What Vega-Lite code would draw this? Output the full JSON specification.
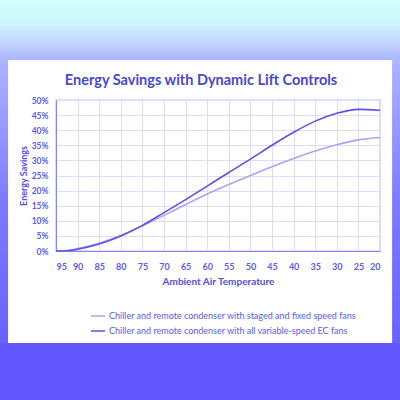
{
  "$schema": "https://vega.github.io/schema/vega-lite/v6.json",
  "autosize": "none",
  "width": 324,
  "height": 151,
  "padding": {"left": 56, "top": 100, "right": 20, "bottom": 149},
  "background": "white",
  "title": {
    "text": "Energy Savings with Dynamic Lift Controls",
    "font": "Lato",
    "fontSize": 14.5,
    "fontWeight": "bold",
    "color": "#4848d2",
    "anchor": "middle",
    "frame": "group",
    "baseline": "alphabetic",
    "offset": 0,
    "dx": -17,
    "dy": 99
  },
  "datasets": {
    "savings": [
      {"temp": 95, "pct": 0, "series": "Chiller and remote condenser with staged and fixed speed fans"},
      {"temp": 92.5, "pct": 0.1, "series": "Chiller and remote condenser with staged and fixed speed fans"},
      {"temp": 90, "pct": 0.8, "series": "Chiller and remote condenser with staged and fixed speed fans"},
      {"temp": 85, "pct": 2.6, "series": "Chiller and remote condenser with staged and fixed speed fans"},
      {"temp": 80, "pct": 5.1, "series": "Chiller and remote condenser with staged and fixed speed fans"},
      {"temp": 75, "pct": 8.3, "series": "Chiller and remote condenser with staged and fixed speed fans"},
      {"temp": 70, "pct": 11.8, "series": "Chiller and remote condenser with staged and fixed speed fans"},
      {"temp": 65, "pct": 15.4, "series": "Chiller and remote condenser with staged and fixed speed fans"},
      {"temp": 60, "pct": 18.9, "series": "Chiller and remote condenser with staged and fixed speed fans"},
      {"temp": 55, "pct": 22.0, "series": "Chiller and remote condenser with staged and fixed speed fans"},
      {"temp": 50, "pct": 25.0, "series": "Chiller and remote condenser with staged and fixed speed fans"},
      {"temp": 45, "pct": 27.9, "series": "Chiller and remote condenser with staged and fixed speed fans"},
      {"temp": 40, "pct": 30.6, "series": "Chiller and remote condenser with staged and fixed speed fans"},
      {"temp": 35, "pct": 33.1, "series": "Chiller and remote condenser with staged and fixed speed fans"},
      {"temp": 30, "pct": 35.2, "series": "Chiller and remote condenser with staged and fixed speed fans"},
      {"temp": 25, "pct": 36.8, "series": "Chiller and remote condenser with staged and fixed speed fans"},
      {"temp": 20, "pct": 37.6, "series": "Chiller and remote condenser with staged and fixed speed fans"},
      {"temp": 95, "pct": 0, "series": "Chiller and remote condenser with all variable-speed EC fans"},
      {"temp": 92.5, "pct": 0.1, "series": "Chiller and remote condenser with all variable-speed EC fans"},
      {"temp": 90, "pct": 0.6, "series": "Chiller and remote condenser with all variable-speed EC fans"},
      {"temp": 85, "pct": 2.3, "series": "Chiller and remote condenser with all variable-speed EC fans"},
      {"temp": 80, "pct": 5.0, "series": "Chiller and remote condenser with all variable-speed EC fans"},
      {"temp": 75, "pct": 8.5, "series": "Chiller and remote condenser with all variable-speed EC fans"},
      {"temp": 70, "pct": 12.7, "series": "Chiller and remote condenser with all variable-speed EC fans"},
      {"temp": 65, "pct": 17.0, "series": "Chiller and remote condenser with all variable-speed EC fans"},
      {"temp": 60, "pct": 21.5, "series": "Chiller and remote condenser with all variable-speed EC fans"},
      {"temp": 55, "pct": 26.0, "series": "Chiller and remote condenser with all variable-speed EC fans"},
      {"temp": 50, "pct": 30.4, "series": "Chiller and remote condenser with all variable-speed EC fans"},
      {"temp": 45, "pct": 35.0, "series": "Chiller and remote condenser with all variable-speed EC fans"},
      {"temp": 40, "pct": 39.3, "series": "Chiller and remote condenser with all variable-speed EC fans"},
      {"temp": 35, "pct": 43.0, "series": "Chiller and remote condenser with all variable-speed EC fans"},
      {"temp": 30, "pct": 45.6, "series": "Chiller and remote condenser with all variable-speed EC fans"},
      {"temp": 25, "pct": 46.9, "series": "Chiller and remote condenser with all variable-speed EC fans"},
      {"temp": 20, "pct": 46.6, "series": "Chiller and remote condenser with all variable-speed EC fans"}
    ],
    "one": [{}]
  },
  "resolve": {"axis": {"x": "independent", "y": "independent"}},
  "layer": [
    {
      "data": {"name": "one"},
      "mark": {
        "type": "rect",
        "fill": {
          "gradient": "linear", "x1": 0, "y1": 0, "x2": 0, "y2": 1,
          "stops": [
            {"offset": 0, "color": "#d2fefd"},
            {"offset": 0.08, "color": "#c6e6fb"},
            {"offset": 0.16, "color": "#aab2ff"},
            {"offset": 0.5, "color": "#7e7aff"},
            {"offset": 1, "color": "#6056ff"}
          ]
        }
      },
      "encoding": {
        "x": {"datum": 109, "type": "quantitative", "axis": null},
        "x2": {"datum": 106.1},
        "y": {"datum": 83.11, "type": "quantitative", "axis": null},
        "y2": {"datum": -51}
      }
    },
    {
      "data": {"name": "one"},
      "mark": {
        "type": "rect",
        "fill": {
          "gradient": "linear", "x1": 0, "y1": 0, "x2": 0, "y2": 1,
          "stops": [
            {"offset": 0, "color": "#d2fefd"},
            {"offset": 0.08, "color": "#c6e6fb"},
            {"offset": 0.16, "color": "#aab2ff"},
            {"offset": 0.5, "color": "#7e7aff"},
            {"offset": 1, "color": "#6056ff"}
          ]
        }
      },
      "encoding": {
        "x": {"datum": 17.2, "type": "quantitative", "axis": null},
        "x2": {"datum": 14},
        "y": {"datum": 83.11, "type": "quantitative", "axis": null},
        "y2": {"datum": -51}
      }
    },
    {
      "data": {"name": "one"},
      "mark": {
        "type": "rect",
        "fill": {
          "gradient": "linear", "x1": 0, "y1": 0, "x2": 0, "y2": 1,
          "stops": [
            {"offset": 0, "color": "#d2fefd"},
            {"offset": 0.4, "color": "#cdf6fc"},
            {"offset": 0.75, "color": "#bfd2fc"},
            {"offset": 1, "color": "#acb4ff"}
          ]
        }
      },
      "encoding": {
        "x": {"datum": 109, "type": "quantitative", "axis": null},
        "x2": {"datum": 14},
        "y": {"datum": 83.11, "type": "quantitative", "axis": null},
        "y2": {"datum": 63.25}
      }
    },
    {
      "data": {"name": "one"},
      "mark": {"type": "rect", "fill": "#6257ff"},
      "encoding": {
        "x": {"datum": 109, "type": "quantitative", "axis": null},
        "x2": {"datum": 14},
        "y": {"datum": -30.5, "type": "quantitative", "axis": null},
        "y2": {"datum": -51}
      }
    },
    {
      "data": {"name": "savings"},
      "mark": {"type": "line", "interpolate": "monotone", "strokeWidth": 1.6},
      "encoding": {
        "x": {
          "field": "temp",
          "type": "quantitative",
          "scale": {"domain": [20, 95], "reverse": true, "nice": false, "zero": false},
          "axis": {
            "values": [95, 90, 85, 80, 75, 70, 65, 60, 55, 50, 45, 40, 35, 30, 25, 20],
            "grid": true,
            "gridColor": "#dcdcfc",
            "labelOverlap": false,
            "title": "Ambient Air Temperature",
            "labelPadding": 11,
            "titlePadding": 5
          }
        },
        "y": {
          "field": "pct",
          "type": "quantitative",
          "scale": {"domain": [0, 50], "nice": false},
          "axis": {
            "values": [0, 5, 10, 15, 20, 25, 30, 35, 40, 45, 50],
            "grid": true,
            "gridColor": "#dcdcfc",
            "labelOverlap": false,
            "labelExpr": "datum.value + '%'",
            "title": "Energy Savings",
            "labelPadding": 8,
            "labelFontSize": 8.5,
            "titleFontSize": 9,
            "titlePadding": 3
          }
        },
        "color": {
          "field": "series",
          "type": "nominal",
          "scale": {
            "domain": [
              "Chiller and remote condenser with staged and fixed speed fans",
              "Chiller and remote condenser with all variable-speed EC fans"
            ],
            "range": ["#ada3f7", "#5b52e6"]
          },
          "legend": {
            "title": null,
            "orient": "none",
            "legendX": 34,
            "legendY": 208,
            "symbolType": "stroke",
            "symbolSize": 196,
            "symbolStrokeWidth": 1.5,
            "labelFont": "Lato",
            "labelFontSize": 9,
            "labelColor": "#5a5aee",
            "labelOffset": 3,
            "rowPadding": 2,
            "padding": 0,
            "labelLimit": 400
          }
        }
      }
    }
  ],
  "config": {
    "view": {"stroke": "#8484f4", "strokeWidth": 1.2},
    "axis": {
      "grid": true,
      "gridColor": "#dcdcfc",
      "gridWidth": 1,
      "domainColor": "#8484f4",
      "ticks": false,
      "labelFont": "Lato",
      "labelFontSize": 9,
      "labelFontWeight": "bold",
      "labelColor": "#5c5cee",
      "titleFont": "Lato",
      "titleFontSize": 10,
      "titleFontWeight": "bold",
      "titleColor": "#5050e6"
    }
  }
}
